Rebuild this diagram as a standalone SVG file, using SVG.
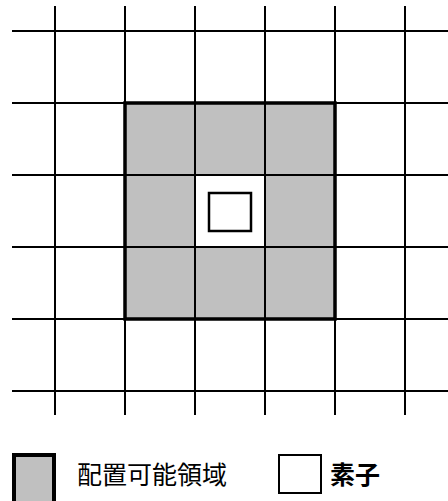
<svg xmlns="http://www.w3.org/2000/svg" width="448" height="501" viewBox="0 0 448 501">
<style>
.g{stroke:#000;stroke-width:2;fill:none}
.t{font-family:"Liberation Sans","Noto Sans CJK JP",sans-serif;font-size:25px;fill:#000}
</style>
<rect width="448" height="501" fill="#fff"/>
<g id="region">
<rect x="125" y="103" width="210" height="216" fill="#c0c0c0"/>
<rect x="195" y="175" width="70" height="72" fill="#fff"/>
</g>
<g id="grid" class="g">
<path d="M55 6V415M125 6V415M195 6V415M265 6V415M335 6V415M405 6V415"/>
<path d="M12 31H448M12 103H448M12 175H448M12 247H448M12 319H448M12 391H448"/>
</g>
<g id="border"><rect x="125" y="103" width="210" height="216" fill="none" stroke="#000" stroke-width="3.5"/></g>
<g id="element"><rect x="209" y="193" width="42" height="38" fill="#fff" stroke="#000" stroke-width="2.5"/></g>
<g id="legend">
<rect x="14" y="455" width="40" height="48" fill="#c0c0c0" stroke="#000" stroke-width="4"/>
<text class="t" x="77" y="484">配置可能領域</text>
<rect x="279" y="455" width="42" height="38" fill="#fff" stroke="#000" stroke-width="2"/>
<text class="t" x="330" y="484" font-weight="bold">素子</text>
</g>
</svg>
